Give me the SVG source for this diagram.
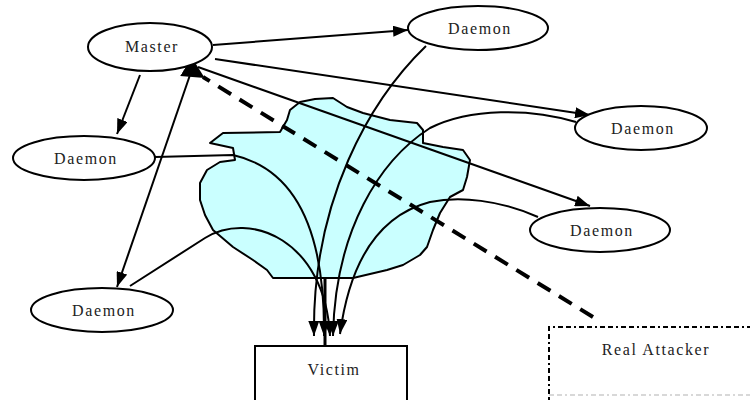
<svg xmlns="http://www.w3.org/2000/svg" width="750" height="400" viewBox="0 0 750 400">
<defs>
<style>
.node{fill:#fff;stroke:#000;stroke-width:2}
.lbl{font-family:"Liberation Serif","Times New Roman",serif;font-size:16px;letter-spacing:1.6px;fill:#222;text-anchor:middle}
.con{fill:none;stroke:#000;stroke-width:2}
.cloud{fill:#caffff;stroke:#000;stroke-width:2;stroke-linejoin:round}
</style>
<marker id="ah" markerUnits="userSpaceOnUse" markerWidth="15" markerHeight="11" refX="15" refY="5.5" orient="auto">
<path d="M0,0 L15,5.5 L0,11 z" fill="#000"/>
</marker>
<marker id="big" markerUnits="userSpaceOnUse" markerWidth="22" markerHeight="22" refX="2" refY="11" orient="auto">
<path d="M22,0 L0,11 L22,22 z" fill="#000"/>
</marker>
</defs>
<rect width="750" height="400" fill="#fff"/>

<g id="cloud">
<path class="cloud" d="M290,110 L300,102 L315,99 L333,98 L347,107 L363,113 L390,120 L417,123 L423,130 L423,143 L443,147 L463,150 L470,160 L467,177 L463,190 L450,197 L440,213 L433,230 L427,247 L420,255 L403,265 L387,270 L353,278 L273,278 L267,270 L253,260 L233,247 L213,230 L205,215 L200,200 L200,183 L207,170 L220,162 L235,160 L233,148 L210,143 L223,133 L280,132 L287,120 Z"/>
</g>

<g id="connectors">
<line class="con" x1="213" y1="45" x2="408" y2="30" marker-end="url(#ah)"/>
<line class="con" x1="215" y1="59" x2="590" y2="115" marker-end="url(#ah)"/>
<line class="con" x1="198" y1="67" x2="590" y2="206" marker-end="url(#ah)"/>
<line class="con" x1="140" y1="75" x2="117" y2="134" marker-end="url(#ah)"/>
<line class="con" x1="190" y1="75" x2="117" y2="287" marker-end="url(#ah)"/>
<line x1="593" y1="317" x2="203" y2="77" stroke="#000" stroke-width="4" stroke-dasharray="15,10" marker-end="url(#big)"/>
<path class="con" d="M426,46 C370,100 312,200 314,336" marker-end="url(#ah)"/>
<path class="con" d="M155,157 L233,155 C300,170 325,240 324,336" marker-end="url(#ah)"/>
<path class="con" d="M130,286 L205,238 C250,210 325,240 330,336" marker-end="url(#ah)"/>
<path class="con" d="M576,122 C530,108 470,108 430,128 C380,160 335,230 333,336" marker-end="url(#ah)"/>
<path class="con" d="M538,217 C500,200 460,196 430,202 C380,215 350,260 340,334" marker-end="url(#ah)"/>
<line x1="325" y1="278" x2="325" y2="346" stroke="#000" stroke-width="3"/>
</g>

<g id="master">
<ellipse class="node" cx="150" cy="47" rx="62" ry="24"/>
<text class="lbl" x="152" y="52">Master</text>
</g>
<g id="daemon-top">
<ellipse class="node" cx="478" cy="28" rx="70" ry="22"/>
<text class="lbl" x="480" y="34">Daemon</text>
</g>
<g id="daemon-right">
<ellipse class="node" cx="641" cy="128" rx="66" ry="22"/>
<text class="lbl" x="643" y="134">Daemon</text>
</g>
<g id="daemon-left">
<ellipse class="node" cx="84" cy="158" rx="71" ry="22"/>
<text class="lbl" x="86" y="164">Daemon</text>
</g>
<g id="daemon-bottom-right">
<ellipse class="node" cx="600" cy="230" rx="70" ry="22"/>
<text class="lbl" x="602" y="236">Daemon</text>
</g>
<g id="daemon-bottom-left">
<ellipse class="node" cx="102" cy="310" rx="71" ry="22"/>
<text class="lbl" x="104" y="316">Daemon</text>
</g>
<g id="victim">
<rect class="node" x="255" y="346" width="152" height="70"/>
<text class="lbl" x="334" y="375">Victim</text>
</g>
<g id="real-attacker">
<path d="M760,327 L549,327 L549,400" fill="none" stroke="#000" stroke-width="2" stroke-dasharray="5,3,5,3,2,3"/>
<line x1="549" y1="395" x2="760" y2="395" stroke="#ccc" stroke-width="1.5" stroke-dasharray="5,3,5,3,2,3"/>
<text class="lbl" x="656" y="355">Real Attacker</text>
</g>
</svg>
